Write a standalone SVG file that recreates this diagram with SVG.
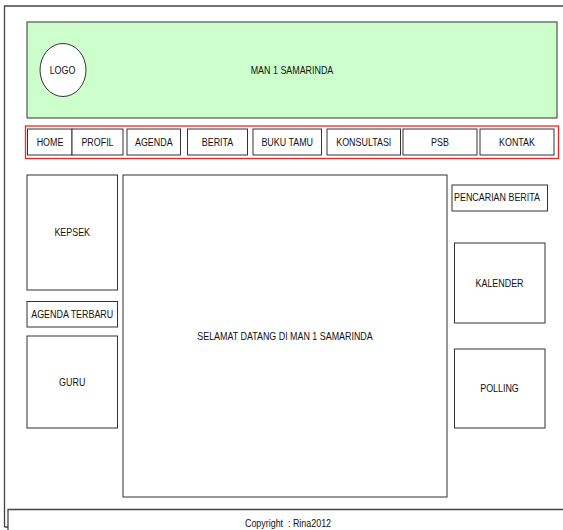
<svg xmlns="http://www.w3.org/2000/svg" width="563" height="530" viewBox="0 0 563 530">
<style>
.b{fill:#fff;stroke:#333;stroke-width:1}
.l{fill:none;stroke:#444;stroke-width:1.3}
text{font-family:"Liberation Sans",Arial,sans-serif;font-size:11px;fill:#111;text-anchor:middle}
</style>
<rect width="563" height="530" fill="#fff"/>
<g id="frame">
<path class="l" d="M4.5,527 V6 H563 M4.5,527 H8"/>
</g>
<g id="footer">
<path class="l" d="M8,530 V509.5 H563"/>
<text transform="translate(288,526.5) scale(0.81,1)" xml:space="preserve">Copyright  : Rina2012</text>
</g>
<g id="header">
<rect x="27" y="22" width="530" height="96" fill="#ccffcc" stroke="#333" stroke-width="1"/>
<text transform="translate(292,73.7) scale(0.81,1)">MAN 1 SAMARINDA</text>
</g>
<g id="logo">
<ellipse class="b" cx="63" cy="70" rx="23" ry="26.5"/>
<text transform="translate(62.5,73.7) scale(0.81,1)">LOGO</text>
</g>
<g id="nav">
<rect x="25.5" y="126" width="533" height="32.5" fill="none" stroke="#ff2020" stroke-width="1.3"/>
</g>
<g id="home"><rect class="b" x="27.5" y="129" width="44.5" height="26"/><text transform="translate(50,146) scale(0.81,1)">HOME</text></g>
<g id="profil"><rect class="b" x="72" y="129" width="51" height="26"/><text transform="translate(97.5,146) scale(0.81,1)">PROFIL</text></g>
<g id="agenda"><rect class="b" x="127" y="129" width="53.5" height="26"/><text transform="translate(153.8,146) scale(0.81,1)">AGENDA</text></g>
<g id="berita"><rect class="b" x="187.5" y="129" width="60" height="26"/><text transform="translate(217.5,146) scale(0.81,1)">BERITA</text></g>
<g id="bukutamu"><rect class="b" x="253" y="129" width="68.5" height="26"/><text transform="translate(287.2,146) scale(0.81,1)">BUKU TAMU</text></g>
<g id="konsultasi"><rect class="b" x="327" y="129" width="73.5" height="26"/><text transform="translate(363.8,146) scale(0.81,1)">KONSULTASI</text></g>
<g id="psb"><rect class="b" x="403" y="129" width="74" height="26"/><text transform="translate(440,146) scale(0.81,1)">PSB</text></g>
<g id="kontak"><rect class="b" x="480" y="129" width="74" height="26"/><text transform="translate(517,146) scale(0.81,1)">KONTAK</text></g>
<g id="kepsek"><rect class="b" x="27" y="175" width="90.5" height="115"/><text transform="translate(72.2,236.3) scale(0.81,1)">KEPSEK</text></g>
<g id="agendaterbaru"><rect class="b" x="27" y="301.5" width="90.5" height="25.5"/><text transform="translate(72.2,318) scale(0.81,1)">AGENDA TERBARU</text></g>
<g id="guru"><rect class="b" x="27" y="336" width="90.5" height="92"/><text transform="translate(72.2,385.7) scale(0.81,1)">GURU</text></g>
<g id="main"><rect class="b" x="123" y="175" width="324" height="322"/><text transform="translate(285,340) scale(0.81,1)">SELAMAT DATANG DI MAN 1 SAMARINDA</text></g>
<g id="pencarian"><rect class="b" x="452" y="185" width="95.5" height="26"/><text transform="translate(497,201) scale(0.81,1)">PENCARIAN BERITA</text></g>
<g id="kalender"><rect class="b" x="454.5" y="243" width="90.5" height="80"/><text transform="translate(499.5,286.7) scale(0.81,1)">KALENDER</text></g>
<g id="polling"><rect class="b" x="454.5" y="349" width="90.5" height="79"/><text transform="translate(499.5,392.3) scale(0.81,1)">POLLING</text></g>
</svg>
